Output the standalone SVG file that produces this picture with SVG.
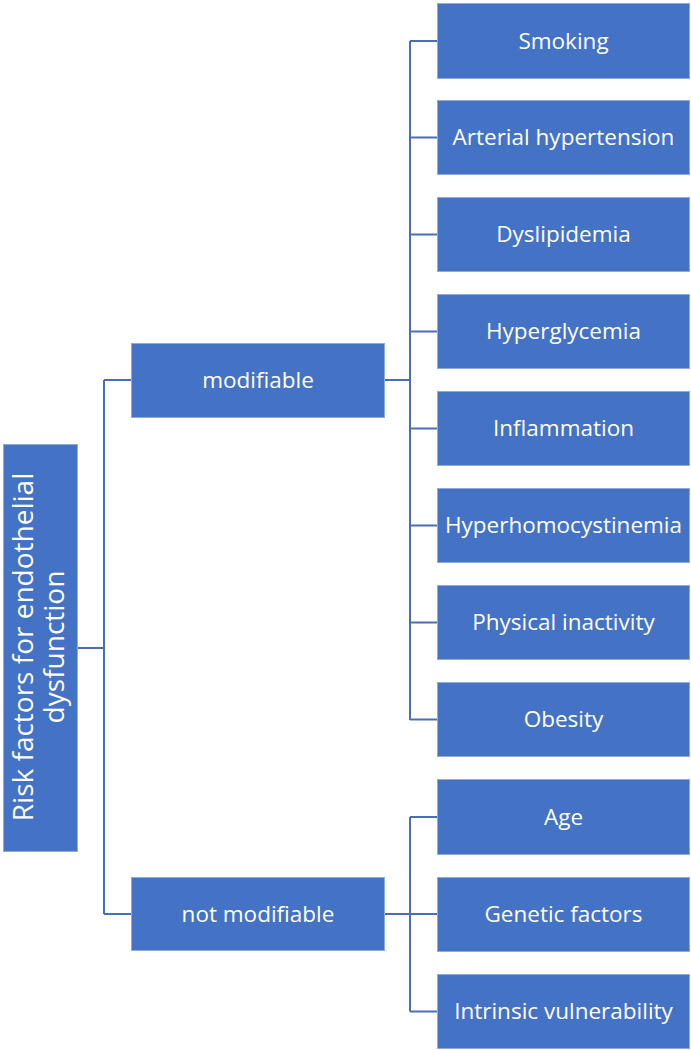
<svg xmlns="http://www.w3.org/2000/svg" width="691" height="1050" viewBox="0 0 691 1050">
<style>
.box{fill:#4472C4;stroke:#8FAADC;stroke-width:1}
.t{fill:#fff;font-family:"Open Sans","Noto Sans",sans-serif;font-size:22.5px;text-anchor:middle;dominant-baseline:central}
.rt{fill:#fff;font-family:"Open Sans","Noto Sans",sans-serif;font-size:28px;text-anchor:middle}
.c{fill:none;stroke:#4A6EB3;stroke-width:2}
</style>
<rect width="691" height="1050" fill="#fff"/>
<g id="connectors">
<path class="c" d="M78 648H104M104 380V914M104 380H131M104 914H131"/>
<path class="c" d="M385 380H410M410 41V720M410 41H437M410 137.5H437M410 234.5H437M410 331.5H437M410 428.5H437M410 525.5H437M410 622.5H437M410 719.5H437"/>
<path class="c" d="M385 914H437M410 817V1011.5M410 817H437M410 1011.5H437"/>
</g>
<g id="root"><rect class="box" x="3.5" y="444.5" width="74" height="407"/>
<text class="rt" transform="translate(40,647) rotate(-90)"><tspan x="0" y="-7">Risk factors for endothelial</tspan><tspan x="0" y="24">dysfunction</tspan></text></g>
<g id="modifiable"><rect class="box" x="131.5" y="343.5" width="253" height="74"/><text class="t" x="258" y="379">modifiable</text></g>
<g id="not-modifiable"><rect class="box" x="131.5" y="877.5" width="253" height="73"/><text class="t" x="258" y="913">not modifiable</text></g>
<g id="smoking"><rect class="box" x="437.5" y="3.5" width="252" height="75"/><text class="t" x="563.5" y="40">Smoking</text></g>
<g id="arterial-hypertension"><rect class="box" x="437.5" y="100.5" width="252" height="74"/><text class="t" x="563.5" y="136.5">Arterial hypertension</text></g>
<g id="dyslipidemia"><rect class="box" x="437.5" y="197.5" width="252" height="74"/><text class="t" x="563.5" y="233.5">Dyslipidemia</text></g>
<g id="hyperglycemia"><rect class="box" x="437.5" y="294.5" width="252" height="74"/><text class="t" x="563.5" y="330.5">Hyperglycemia</text></g>
<g id="inflammation"><rect class="box" x="437.5" y="391.5" width="252" height="74"/><text class="t" x="563.5" y="427.5">Inflammation</text></g>
<g id="hyperhomocystinemia"><rect class="box" x="437.5" y="488.5" width="252" height="74"/><text class="t" x="563.5" y="524.5">Hyperhomocystinemia</text></g>
<g id="physical-inactivity"><rect class="box" x="437.5" y="585.5" width="252" height="74"/><text class="t" x="563.5" y="621.5">Physical inactivity</text></g>
<g id="obesity"><rect class="box" x="437.5" y="682.5" width="252" height="74"/><text class="t" x="563.5" y="718.5">Obesity</text></g>
<g id="age"><rect class="box" x="437.5" y="779.5" width="252" height="75"/><text class="t" x="563.5" y="816">Age</text></g>
<g id="genetic-factors"><rect class="box" x="437.5" y="877.5" width="252" height="74"/><text class="t" x="563.5" y="913">Genetic factors</text></g>
<g id="intrinsic-vulnerability"><rect class="box" x="437.5" y="974.5" width="252" height="74"/><text class="t" x="563.5" y="1010.5">Intrinsic vulnerability</text></g>
</svg>
